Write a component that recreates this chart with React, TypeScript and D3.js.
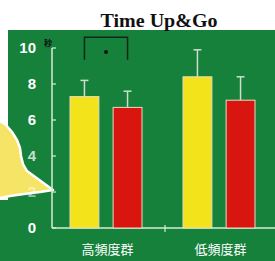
import * as d3 from 'd3';

const groups = ['高頻度群', '低頻度群'];
const series = ['yellow', 'red'];
const means = [
  [7.3, 6.7],
  [8.4, 7.1],
];
const sdTops = [
  [8.2, 7.6],
  [9.9, 8.4],
];
const yTicks = [0, 2, 4, 6, 8, 10];

const W = 275;
const H = 261;
const colors: Record<string, string> = { yellow: '#f3e31b', red: '#d8160f' };

export default function App() {
  const y = d3.scaleLinear().domain([0, 10]).range([228, 48]);
  const x0 = d3.scaleBand().domain(groups).range([52, 278]);
  const x1 = d3.scaleBand().domain(series).range([18, 90]).paddingInner(0.33);
  const bw = x1.bandwidth();

  const axisColor = '#d6ecd6';
  const errColor = '#cfdccf';

  // bracket between first group's two bars
  const bx1 = (x0(groups[0]) ?? 0) + (x1('yellow') ?? 0) + bw / 2;
  const bx2 = (x0(groups[0]) ?? 0) + (x1('red') ?? 0) + bw / 2;
  const bTop = y(10.6);
  const bBot = y(9.35);

  const blob = d3.line().curve(d3.curveLinear)([
    [0, 121], [6, 125], [12, 132], [17, 140], [20, 148], [21, 156], [23, 164],
    [27, 171], [53, 190], [40, 192], [24, 194], [10, 196], [0, 198],
  ]);

  return (
    <svg width={W} height={H} style={{ position: 'absolute', left: 0, top: 0 }}>
      <rect x={0} y={0} width={W} height={H} fill="#ffffff" />
      <rect x={8} y={30} width={W - 8} height={H - 30} fill="#16813b" />
      <rect x={0} y={200} width={8} height={H - 200} fill="#16813b" />
      <path d={blob ?? ''} fill="#f5e466" stroke="#ffffff" strokeWidth={2.5} strokeLinejoin="round" />
      <text
        x={159}
        y={27}
        textAnchor="middle"
        fontFamily="Liberation Serif, serif"
        fontWeight="bold"
        fontSize={18}
        textLength={117}
        lengthAdjust="spacingAndGlyphs"
        fill="#111"
      >
        Time Up&amp;Go
      </text>

      {/* y axis */}
      <line x1={52} x2={52} y1={y(10)} y2={y(0)} stroke={axisColor} strokeWidth={1.5} />
      {yTicks.map((t) => (
        <g key={t}>
          <line x1={52} x2={56} y1={y(t)} y2={y(t)} stroke={axisColor} strokeWidth={1.2} />
          <text
            x={36}
            y={y(t) + 5}
            textAnchor="end"
            fontFamily="Liberation Sans, Arial, sans-serif"
            fontWeight="bold"
            fontSize={15}
            fill="#ffffff"
            opacity={t === 2 ? 0.5 : t === 4 ? 0.75 : 1}
          >
            {t}
          </text>
        </g>
      ))}
      <text x={44} y={46} fontFamily="Noto Sans CJK JP, sans-serif" fontWeight="bold" fontSize={8} fill="#111">
        秒
      </text>

      {/* x axis */}
      <line x1={52} x2={W} y1={y(0)} y2={y(0)} stroke={axisColor} strokeWidth={1.5} />
      <line x1={x0(groups[1])} x2={x0(groups[1])} y1={y(0) - 3} y2={y(0) + 4} stroke={axisColor} strokeWidth={1.2} />

      {groups.map((g, gi) => (
        <g key={g} transform={`translate(${x0(g)},0)`}>
          {series.map((s, si) => {
            const bx = x1(s) ?? 0;
            const cx = bx + bw / 2;
            return (
              <g key={s}>
                <line x1={cx} x2={cx} y1={y(sdTops[gi][si])} y2={y(means[gi][si])} stroke={errColor} strokeWidth={1.5} />
                <line x1={cx - 4} x2={cx + 4} y1={y(sdTops[gi][si])} y2={y(sdTops[gi][si])} stroke={errColor} strokeWidth={1.5} />
                <rect
                  x={bx}
                  y={y(means[gi][si])}
                  width={bw}
                  height={y(0) - y(means[gi][si])}
                  fill={colors[s]}
                  stroke="#e9dcc0"
                  strokeWidth={1}
                />
              </g>
            );
          })}
          <text
            x={x0.bandwidth() / 2 - 1}
            y={254}
            textAnchor="middle"
            fontFamily="Noto Sans CJK JP, sans-serif"
            fontSize={13}
            fill="#ffffff"
          >
            {g}
          </text>
        </g>
      ))}

      {/* significance */}
      <path
        d={`M${bx1},${bBot}V${bTop}H${bx2}V${bBot}`}
        fill="none"
        stroke="#12261a"
        strokeWidth={1.5}
      />
      <circle cx={(bx1 + bx2) / 2} cy={52} r={2} fill="#111" />
    </svg>
  );
}
